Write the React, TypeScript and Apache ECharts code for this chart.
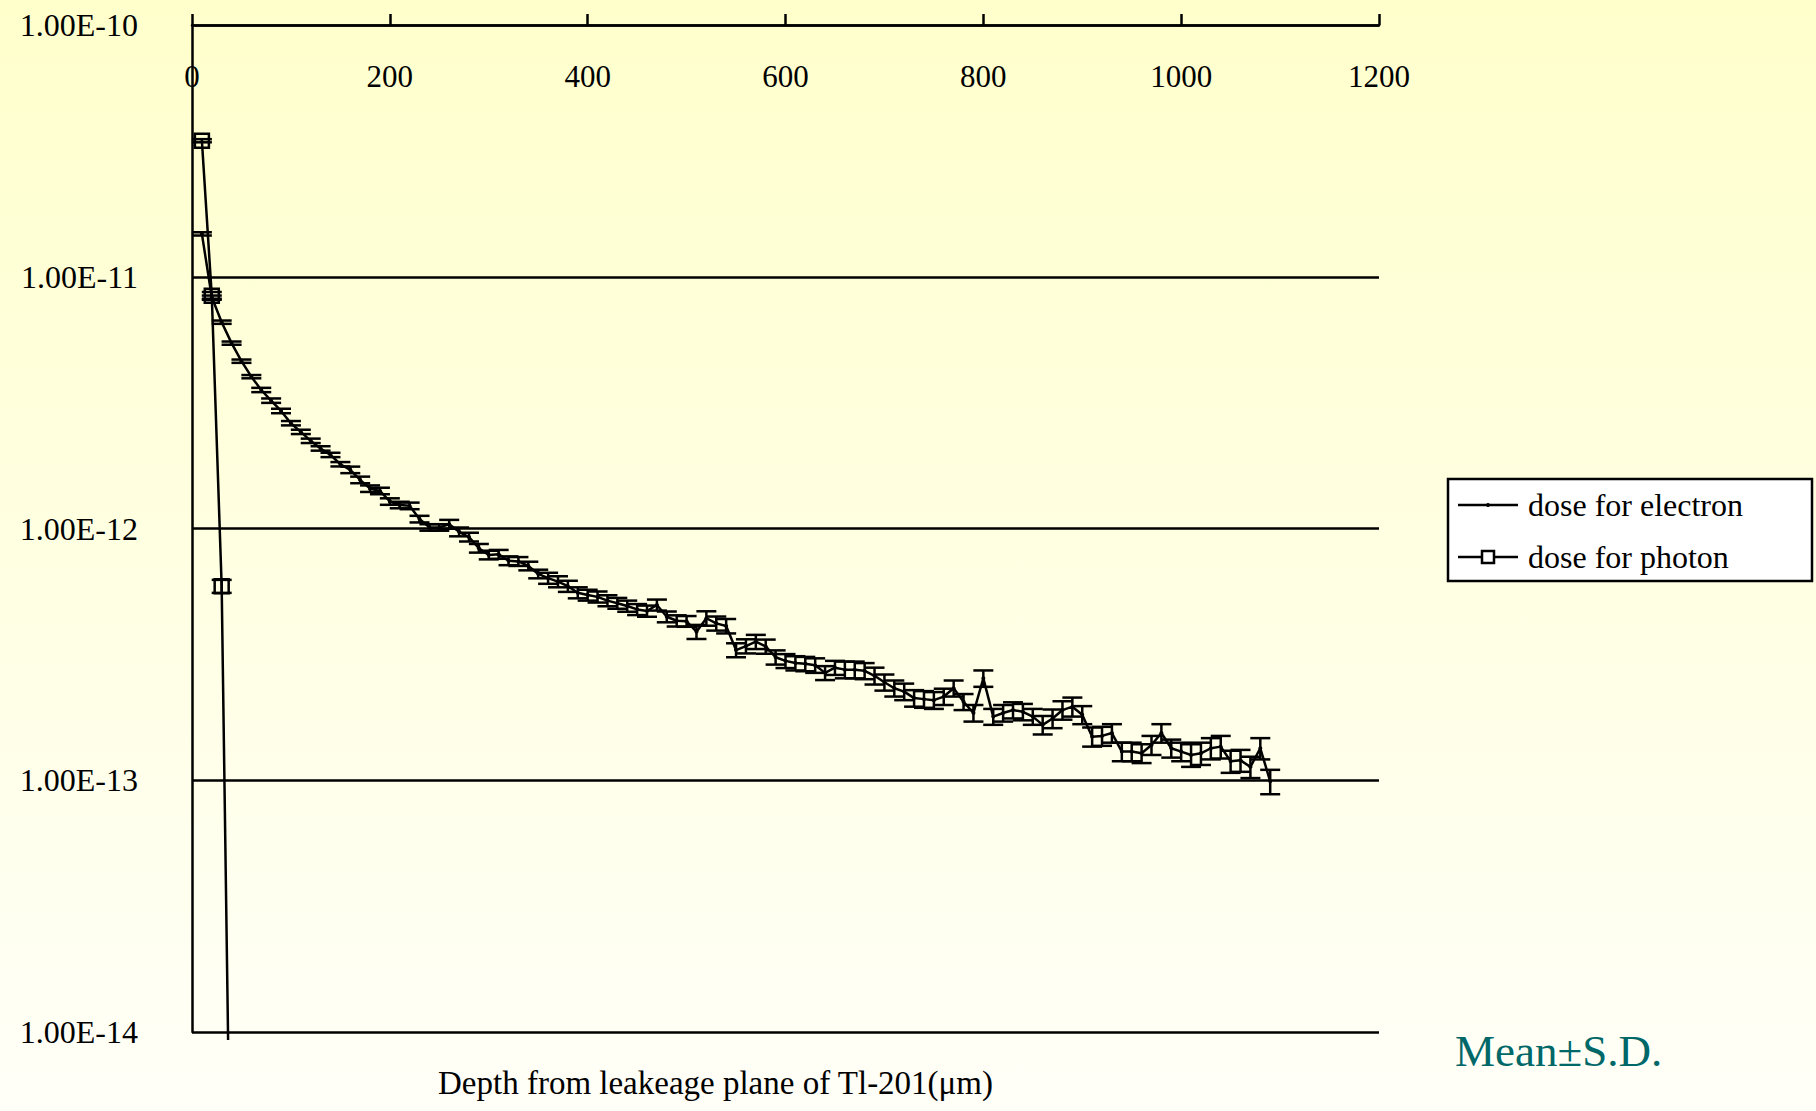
import React, { useEffect, useRef } from 'react';
import * as echarts from 'echarts';

// Depth (µm) of the electron dose points
const electronX = [10,20,30,40,50,60,70,80,90,100,110,120,130,140,150,160,170,180,190,200,210,220,230,240,250,260,270,280,290,300,310,320,330,340,350,360,370,380,390,400,410,420,430,440,450,460,470,480,490,500,510,520,530,540,550,560,570,580,590,600,610,620,630,640,650,660,670,680,690,700,710,720,730,740,750,760,770,780,790,800,810,820,830,840,850,860,870,880,890,900,910,920,930,940,950,960,970,980,990,1000,1010,1020,1030,1040,1050,1060,1070,1080,1090];

// Mean dose for electron (x 1e-12)
const electronMean = [
  14.8, 8.3, 6.6, 5.45, 4.62, 4.01, 3.55, 3.22, 2.93, 2.62,
  2.42, 2.23, 2.08, 1.96, 1.80, 1.71, 1.56, 1.44, 1.41, 1.28,
  1.24, 1.23, 1.09, 1.01, 1.01, 1.04, 0.97, 0.925, 0.835, 0.785,
  0.79, 0.745, 0.74, 0.71, 0.66, 0.635, 0.615, 0.59, 0.556, 0.544,
  0.535, 0.517, 0.505, 0.492, 0.477, 0.47, 0.497, 0.446, 0.43, 0.428,
  0.389, 0.44, 0.42, 0.41, 0.329, 0.341, 0.355, 0.34, 0.308, 0.298,
  0.292, 0.29, 0.286, 0.267, 0.28, 0.275, 0.275, 0.272, 0.26, 0.245,
  0.232, 0.225, 0.212, 0.21, 0.208, 0.215, 0.232, 0.205, 0.185, 0.254,
  0.179, 0.185, 0.19, 0.187, 0.179, 0.166, 0.176, 0.19, 0.196, 0.182,
  0.149, 0.15, 0.154, 0.13, 0.13, 0.128, 0.138, 0.154, 0.134, 0.13,
  0.126, 0.128, 0.134, 0.136, 0.119, 0.12, 0.113, 0.134, 0.099
];

// S.D. of dose for electron (x 1e-12)
const electronSD = [
  0.22, 0.12, 0.10, 0.08, 0.07, 0.06, 0.07, 0.065, 0.06, 0.052,
  0.048, 0.045, 0.042, 0.039, 0.036, 0.051, 0.047, 0.043, 0.042, 0.038,
  0.037, 0.037, 0.033, 0.030, 0.030, 0.042, 0.039, 0.037, 0.033, 0.031,
  0.032, 0.030, 0.030, 0.028, 0.026, 0.032, 0.031, 0.030, 0.028, 0.027,
  0.027, 0.026, 0.025, 0.025, 0.024, 0.024, 0.025, 0.022, 0.022, 0.021,
  0.025, 0.029, 0.027, 0.027, 0.021, 0.022, 0.023, 0.022, 0.020, 0.019,
  0.019, 0.019, 0.019, 0.017, 0.018, 0.021, 0.021, 0.020, 0.020, 0.018,
  0.017, 0.017, 0.016, 0.016, 0.016, 0.016, 0.017, 0.015, 0.014, 0.019,
  0.013, 0.014, 0.014, 0.014, 0.013, 0.014, 0.015, 0.016, 0.017, 0.015,
  0.013, 0.013, 0.013, 0.011, 0.011, 0.011, 0.012, 0.013, 0.011, 0.011,
  0.013, 0.013, 0.013, 0.014, 0.012, 0.012, 0.011, 0.013, 0.011
];

// Dose for photon (x 1e-12); last point lies below the axis range
const photonX = [10, 20, 30, 36.5];
const photonMean = [34.7, 8.4, 0.59, 0.0093];
const photonSD = [0.5, 0.3, 0.035, 0];

const UNIT = 1e-12;
const xTicks = { min: 0, max: 1200, interval: 200 };
const yTickLabels: Record<number, string> = {
  [-10]: '1.00E-10',
  [-11]: '1.00E-11',
  [-12]: '1.00E-12',
  [-13]: '1.00E-13',
  [-14]: '1.00E-14',
};

const FONT = '"Liberation Serif", "DejaVu Serif", serif';
const LW = 2.5;

function errorBars(name: string, xs: number[], means: number[], sds: number[]) {
  const data = xs
    .map((x, i) => [x, (means[i] - sds[i]) * UNIT, (means[i] + sds[i]) * UNIT])
    .filter((d, i) => sds[i] > 0);
  return {
    type: 'custom',
    name,
    data,
    silent: true,
    z: 4,
    encode: { x: 0, y: [1, 2] },
    renderItem: (params: any, api: any) => {
      const x = api.value(0);
      const lo = api.coord([x, api.value(1)]);
      const hi = api.coord([x, api.value(2)]);
      const hw = 10;
      const style = { stroke: '#000', lineWidth: LW };
      return {
        type: 'group',
        children: [
          { type: 'line', shape: { x1: lo[0], y1: lo[1], x2: hi[0], y2: hi[1] }, style },
          { type: 'line', shape: { x1: lo[0] - hw, y1: lo[1], x2: lo[0] + hw, y2: lo[1] }, style },
          { type: 'line', shape: { x1: hi[0] - hw, y1: hi[1], x2: hi[0] + hw, y2: hi[1] }, style },
        ],
      };
    },
  };
}

export default function App() {
  const ref = useRef<HTMLDivElement>(null);
  useEffect(() => {
    if (!ref.current) return;
    const chart = echarts.init(ref.current, null, { renderer: 'svg' });
    const electronData = electronX.map((x, i) => [x, electronMean[i] * UNIT]);
    const photonData = photonX.map((x, i) =>
      i === photonX.length - 1
        ? { value: [x, photonMean[i] * UNIT], symbol: 'none' }
        : { value: [x, photonMean[i] * UNIT] }
    );
    chart.setOption({
      animation: false,
      backgroundColor: new echarts.graphic.LinearGradient(0, 0, 0, 1, [
        { offset: 0, color: '#FFFFCC' },
        { offset: 1, color: '#FFFFF8' },
      ]),
      grid: { left: 192, top: 25, width: 1187, height: 1007 },
      xAxis: {
        type: 'value',
        position: 'top',
        min: xTicks.min,
        max: xTicks.max,
        interval: xTicks.interval,
        axisLine: { show: true, lineStyle: { color: '#000', width: LW } },
        axisTick: { show: true, inside: false, length: 11, lineStyle: { color: '#000', width: LW } },
        axisLabel: {
          inside: true,
          margin: 36,
          color: '#000',
          fontSize: 31,
          fontFamily: FONT,
          formatter: (v: number) => String(v),
        },
        splitLine: { show: false },
      },
      yAxis: {
        type: 'log',
        logBase: 10,
        min: 1e-14,
        max: 1e-10,
        axisLine: { show: true, lineStyle: { color: '#000', width: LW } },
        axisTick: { show: false },
        axisLabel: {
          margin: 54,
          color: '#000',
          fontSize: 32,
          fontFamily: FONT,
          formatter: (v: number) => yTickLabels[Math.round(Math.log10(v))] ?? '',
        },
        splitLine: { show: true, lineStyle: { color: '#000', width: LW } },
      },
      series: [
        {
          type: 'line',
          name: 'dose for electron',
          data: electronData,
          symbol: 'circle',
          symbolSize: 4,
          itemStyle: { color: '#000' },
          lineStyle: { color: '#000', width: LW },
          z: 3,
        },
        {
          type: 'line',
          name: 'dose for photon',
          data: photonData,
          symbol: 'rect',
          symbolSize: 14,
          clip: false,
          itemStyle: { color: 'transparent', borderColor: '#000', borderWidth: LW },
          lineStyle: { color: '#000', width: LW },
          z: 3,
        },
        errorBars('electron S.D.', electronX, electronMean, electronSD),
        errorBars('photon S.D.', photonX, photonMean, photonSD),
      ],
      graphic: [
        {
          type: 'rect',
          shape: { x: 1448, y: 479, width: 364, height: 102 },
          style: { fill: '#fff', stroke: '#000', lineWidth: LW },
          z: 10,
        },
        { type: 'line', shape: { x1: 1458, y1: 505, x2: 1518, y2: 505 }, style: { stroke: '#000', lineWidth: LW }, z: 11 },
        { type: 'circle', shape: { cx: 1488, cy: 505, r: 2 }, style: { fill: '#000' }, z: 11 },
        {
          type: 'text', x: 1528, y: 505, z: 11,
          style: { text: 'dose for electron', fill: '#000', font: `32px ${FONT}`, verticalAlign: 'middle', align: 'left' },
        },
        { type: 'line', shape: { x1: 1458, y1: 557, x2: 1518, y2: 557 }, style: { stroke: '#000', lineWidth: LW }, z: 11 },
        { type: 'rect', shape: { x: 1482, y: 551, width: 12, height: 12 }, style: { fill: '#fff', stroke: '#000', lineWidth: LW }, z: 12 },
        {
          type: 'text', x: 1528, y: 557, z: 11,
          style: { text: 'dose for photon', fill: '#000', font: `32px ${FONT}`, verticalAlign: 'middle', align: 'left' },
        },
        {
          type: 'text', x: 438, y: 1083, z: 11,
          style: { text: 'Depth from leakeage plane of Tl-201(μm)', fill: '#000', font: `33px ${FONT}`, verticalAlign: 'middle', align: 'left' },
        },
        {
          type: 'text', x: 1455, y: 1051, z: 11,
          style: { text: 'Mean±S.D.', fill: '#006868', font: `45px ${FONT}`, verticalAlign: 'middle', align: 'left' },
        },
      ],
    });
    return () => chart.dispose();
  }, []);
  return (
    <div
      ref={ref}
      style={{ position: 'fixed', left: 0, top: 0, width: 1816, height: 1111 }}
    />
  );
}
